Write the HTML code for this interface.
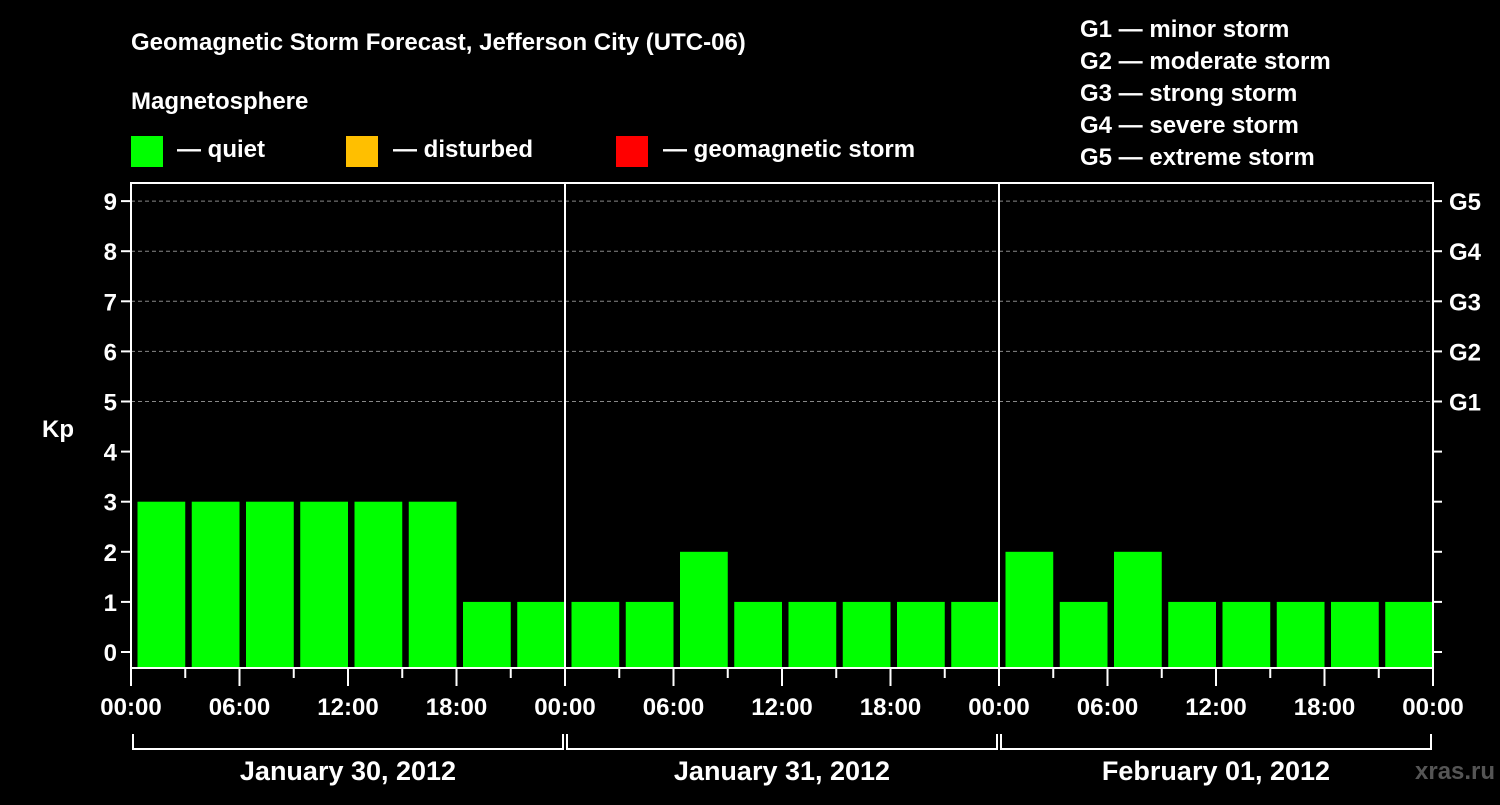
<!DOCTYPE html>
<html><head><meta charset="utf-8">
<style>
body{margin:0;background:#000;width:1500px;height:800px;overflow:hidden}
svg text{font-family:"Liberation Sans",sans-serif;font-weight:bold;fill:#fff}
</style></head>
<body>
<svg id="c" width="1500" height="800" xmlns="http://www.w3.org/2000/svg">
<rect width="1500" height="800" fill="#000"/>
<text x="131" y="50" font-size="24">Geomagnetic Storm Forecast, Jefferson City (UTC-06)</text>
<text x="131" y="109" font-size="24">Magnetosphere</text>
<rect x="131" y="136" width="32" height="31" fill="#00ff00"/>
<text x="177" y="157" font-size="24">— quiet</text>
<rect x="346" y="136" width="32" height="31" fill="#ffbf00"/>
<text x="393" y="157" font-size="24">— disturbed</text>
<rect x="616" y="136" width="32" height="31" fill="#ff0000"/>
<text x="663" y="157" font-size="24">— geomagnetic storm</text>
<g font-size="24">
<text x="1080" y="37">G1 — minor storm</text>
<text x="1080" y="69">G2 — moderate storm</text>
<text x="1080" y="101">G3 — strong storm</text>
<text x="1080" y="133">G4 — severe storm</text>
<text x="1080" y="165">G5 — extreme storm</text>
</g>
<text x="42" y="437" font-size="24">Kp</text>
<text x="1415" y="779" font-size="24" fill="#555" style="fill:#555">xras.ru</text>
<g id="plot"></g>
</svg>
<script>
const values=[3,3,3,3,3,3,1,1, 1,1,2,1,1,1,1,1, 2,1,2,1,1,1,1,1];
const dayLabels=["January 30, 2012","January 31, 2012","February 01, 2012"];
const hourLabels=["00:00","06:00","12:00","18:00"];
const yTicks=[0,1,2,3,4,5,6,7,8,9];
const gLabels=["G1","G2","G3","G4","G5"];
const X0=131,X1=1433,Y0=652,YU=50.1,TOP=183,BOT=668;
const slot=(X1-X0)/values.length;
const y=v=>Y0-v*YU;
const x=i=>X0+i*slot;
const NS="http://www.w3.org/2000/svg";
const g=document.getElementById('plot');
function mk(t,a){const e=document.createElementNS(NS,t);for(const k in a)e.setAttribute(k,a[k]);g.appendChild(e);return e;}
function color(v){return v<4?'#00ff00':(v<5?'#ffbf00':'#ff0000');}
// grid
yTicks.forEach(v=>{
 if(v>=5){const l=mk('line',{x1:X0,x2:X1,y1:y(v),y2:y(v),stroke:'#888','stroke-dasharray':'4,3','stroke-width':1});
 
 }
});
values.forEach((v,i)=>{
 const r=mk('rect',{x:x(i)+6.5,y:y(v),width:slot-6.5,height:BOT-y(v),fill:color(v)});
 
 
});
// frame
const fr=mk('rect',{x:X0,y:TOP,width:X1-X0,height:BOT-TOP,fill:'none',stroke:'#fff','stroke-width':2});


const dw=(X1-X0)/dayLabels.length;
for(let d=1;d<dayLabels.length;d++){
 const l=mk('line',{x1:X0+d*dw,x2:X0+d*dw,y1:TOP,y2:BOT,stroke:'#fff','stroke-width':2});
 
 
}
yTicks.forEach(v=>{
 const t=mk('line',{x1:X0-10,x2:X0,y1:y(v),y2:y(v),stroke:'#fff','stroke-width':2});
 
 
 const t2=mk('line',{x1:X1,x2:X1+9,y1:y(v),y2:y(v),stroke:'#fff','stroke-width':2});
 
 
 const tx=mk('text',{x:X0-14,y:y(v)+9,'font-size':24,'text-anchor':'end'});
 tx.textContent=v;
 
 
 if(v>=5){const gt=mk('text',{x:X1+16,y:y(v)+9,'font-size':24});
 gt.textContent=gLabels[v-5];
 
 }
});
for(let i=0;i<=values.length;i++){
 const major=i%2===0;
 const t=mk('line',{x1:x(i),x2:x(i),y1:BOT,y2:BOT+(major?18:10),stroke:'#fff','stroke-width':2});
 
 
 if(major){const tx=mk('text',{x:x(i),y:BOT+47,'font-size':24,'text-anchor':'middle'});
 tx.textContent=hourLabels[(i/2)%4];
 
 }
}
dayLabels.forEach((lab,d)=>{
 const a=X0+d*dw,b=a+dw;
 const p=mk('path',{d:`M${a+2} 734 V749 H${b-2} V734`,fill:'none',stroke:'#fff','stroke-width':2});
 
 
 const tx=mk('text',{x:a+dw/2,y:780,'font-size':27,'text-anchor':'middle'});
 tx.textContent=lab;
 
 
});
</script>
</body></html>
